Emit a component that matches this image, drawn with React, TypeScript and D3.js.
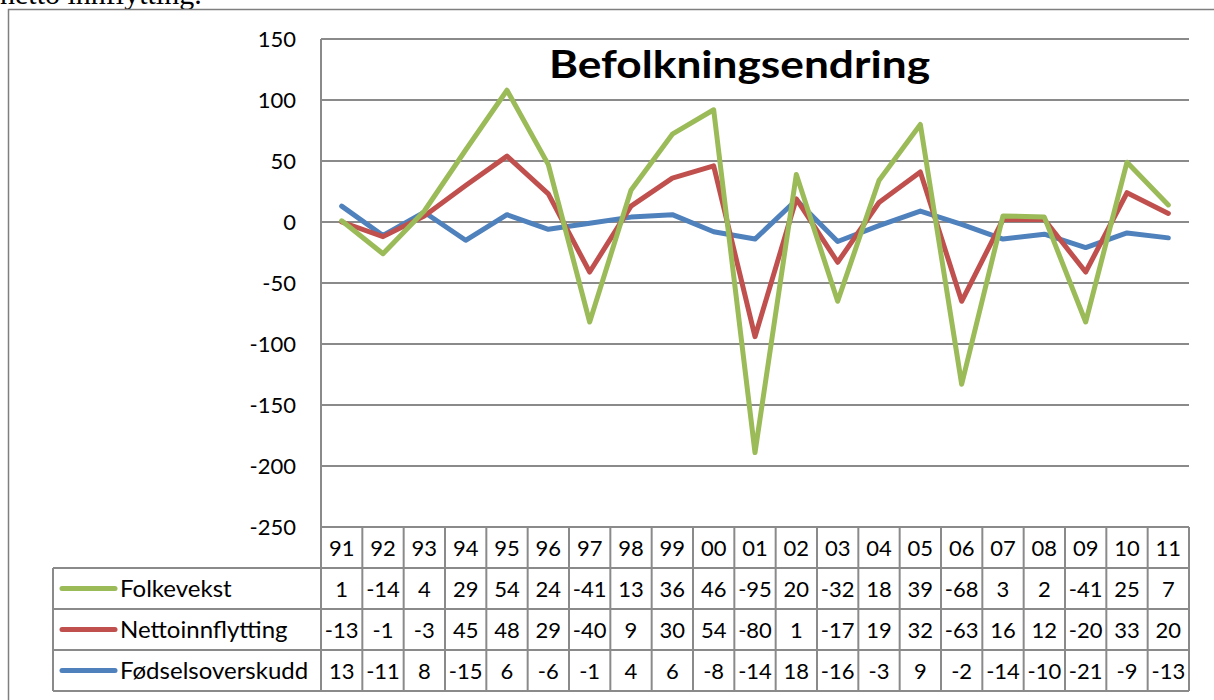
import React from "react";
import * as d3 from "d3";

// values from the data table
const years = ["91", "92", "93", "94", "95", "96", "97", "98", "99", "00", "01", "02", "03", "04", "05", "06", "07", "08", "09", "10", "11"];
const folkevekst = [1, -14, 4, 29, 54, 24, -41, 13, 36, 46, -95, 20, -32, 18, 39, -68, 3, 2, -41, 25, 7];
const nettoinnflytting = [-13, -1, -3, 45, 48, 29, -40, 9, 30, 54, -80, 1, -17, 19, 32, -63, 16, 12, -20, 33, 20];
const fodselsoverskudd = [13, -11, 8, -15, 6, -6, -1, 4, 6, -8, -14, 18, -16, -3, 9, -2, -14, -10, -21, -9, -13];
const yTicks = [150, 100, 50, 0, -50, -100, -150, -200, -250];

// stacking order as Excel does it (first series at bottom)
const stackKeys = ["Fødselsoverskudd", "Nettoinnflytting", "Folkevekst"];
const tableRows = [
  { name: "Folkevekst", values: folkevekst, color: "#9BBB59" },
  { name: "Nettoinnflytting", values: nettoinnflytting, color: "#C0504D" },
  { name: "Fødselsoverskudd", values: fodselsoverskudd, color: "#4F81BD" },
];

const W = 1214;
const H = 700;
const plot = { left: 321, right: 1189, top: 39, bottom: 527 };
const rowH = 41;
const legendLeft = 53;
const font = "Lato, 'Open Sans', sans-serif";
const gridColor = "#8a8a8a";

export default function App() {
  const rows = years.map((y, i) => ({
    year: y,
    Folkevekst: folkevekst[i],
    Nettoinnflytting: nettoinnflytting[i],
    Fødselsoverskudd: fodselsoverskudd[i],
  }));
  const stacked = d3.stack<any>().keys(stackKeys).order(d3.stackOrderNone).offset(d3.stackOffsetNone)(rows);

  const x = d3.scaleBand().domain(years).range([plot.left, plot.right]);
  const y = d3.scaleLinear().domain([-250, 150]).range([plot.bottom, plot.top]);
  const colorOf: Record<string, string> = {};
  tableRows.forEach((r) => (colorOf[r.name] = r.color));

  const line = d3
    .line<any>()
    .x((d) => (x(d.data.year) as number) + x.bandwidth() / 2)
    .y((d) => y(d[1]));

  const tableBottom = plot.bottom + rowH * 4;

  return (
    <svg width={W} height={H} style={{ position: "absolute", left: 0, top: 0, background: "#fff" }}>
      {/* text from the document above, cut off by the page edge */}
      <text x={0} y={4} fontFamily="'Liberation Serif', serif" fontSize={30} fill="#000">
        netto innflytting.
      </text>
      {/* outer chart frame */}
      <rect x={8.5} y={9.5} width={W + 10} height={H + 10} fill="#fff" stroke="#7f7f7f" strokeWidth={1.5} />

      {/* horizontal gridlines */}
      {yTicks.map((t) => (
        <line key={t} x1={plot.left} x2={plot.right} y1={y(t)} y2={y(t)} stroke={gridColor} strokeWidth={2} />
      ))}
      {/* y tick labels */}
      {yTicks.map((t) => (
        <text key={"l" + t} x={296} y={y(t) + 8} textAnchor="end" fontFamily={font} fontSize={22} fill="#000">
          {t}
        </text>
      ))}

      {/* title */}
      <text
        x={549}
        y={78}
        textLength={381}
        lengthAdjust="spacingAndGlyphs"
        fontFamily={font}
        fontWeight="bold"
        fontSize={38}
        fill="#000"
      >
        Befolkningsendring
      </text>

      {/* data table grid */}
      <line x1={plot.left} x2={plot.left} y1={plot.top} y2={tableBottom} stroke={gridColor} strokeWidth={2} />
      {years.map((yr) => (
        <line
          key={"v" + yr}
          x1={(x(yr) as number) + x.bandwidth()}
          x2={(x(yr) as number) + x.bandwidth()}
          y1={plot.bottom}
          y2={tableBottom}
          stroke={gridColor}
          strokeWidth={2}
        />
      ))}
      {[1, 2, 3, 4].map((r) => (
        <line
          key={"h" + r}
          x1={legendLeft}
          x2={plot.right}
          y1={plot.bottom + r * rowH}
          y2={plot.bottom + r * rowH}
          stroke={gridColor}
          strokeWidth={2}
        />
      ))}
      <line x1={legendLeft} x2={legendLeft} y1={plot.bottom + rowH} y2={tableBottom} stroke={gridColor} strokeWidth={2} />

      {/* header row */}
      {years.map((yr) => (
        <text
          key={"y" + yr}
          x={(x(yr) as number) + x.bandwidth() / 2}
          y={plot.bottom + rowH / 2 + 8}
          textAnchor="middle"
          fontFamily={font}
          fontSize={22}
          fill="#000"
        >
          {yr}
        </text>
      ))}

      {/* series rows */}
      {tableRows.map((r, ri) => {
        const cy = plot.bottom + rowH * (ri + 1) + rowH / 2;
        return (
          <g key={r.name}>
            <line x1={62} x2={115} y1={cy} y2={cy} stroke={r.color} strokeWidth={5} strokeLinecap="round" />
            <text x={120} y={cy + 8} fontFamily={font} fontSize={24} fill="#000">
              {r.name}
            </text>
            {r.values.map((v, i) => (
              <text
                key={i}
                x={(x(years[i]) as number) + x.bandwidth() / 2}
                y={cy + 8}
                textAnchor="middle"
                fontFamily={font}
                fontSize={22}
                fill="#000"
              >
                {v}
              </text>
            ))}
          </g>
        );
      })}

      {/* stacked lines */}
      {stacked.map((s) => (
        <path
          key={s.key}
          d={line(s as any) as string}
          fill="none"
          stroke={colorOf[s.key]}
          strokeWidth={5}
          strokeLinejoin="round"
          strokeLinecap="round"
        />
      ))}
    </svg>
  );
}
